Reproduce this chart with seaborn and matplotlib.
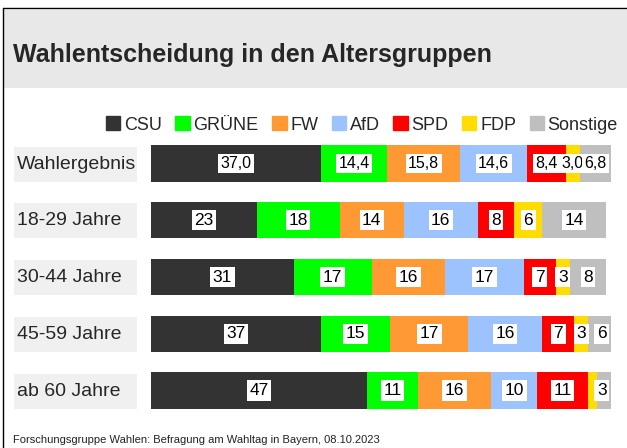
import matplotlib
matplotlib.use("Agg")
import matplotlib.pyplot as plt
import matplotlib.patches as mpatches
from matplotlib import font_manager
import seaborn as sns
import pandas as pd

# Daten
gruppen = ["Wahlergebnis", "18-29 Jahre", "30-44 Jahre", "45-59 Jahre", "ab 60 Jahre"]
parteien = ["CSU", "GRÜNE", "FW", "AfD", "SPD", "FDP", "Sonstige"]
farben = ["#333333", "#00ff00", "#ff9933", "#9dc3ff", "#ff0000", "#ffdd00", "#bfbfbf"]

csu = [37.0, 23, 31, 37, 47]
gruene = [14.4, 18, 17, 15, 11]
fw = [15.8, 14, 16, 17, 16]
afd = [14.6, 16, 17, 16, 10]
spd = [8.4, 8, 7, 7, 11]
fdp = [3.0, 6, 3, 3, 2]
sonstige = [6.8, 14, 8, 6, 3]

werte = [csu, gruene, fw, afd, spd, fdp, sonstige]

sns.set_theme(style="white")
plt.rcParams["font.family"] = ["Liberation Sans", "DejaVu Sans"]

# schmale Schrift für das Wahlergebnis, falls vorhanden
namen = {f.name for f in font_manager.fontManager.ttflist}
narrow = "Liberation Sans Narrow" in namen

df = pd.DataFrame(dict(zip(parteien, werte)), index=gruppen)
cum = df.cumsum(axis=1)

fig = plt.figure(figsize=(6.27, 4.48), dpi=100)
W, H = 627, 448

# Rahmen und Titelband
fig.patches.append(mpatches.Rectangle((4 / W, 1 - 88 / H), 1, 78 / H, transform=fig.transFigure,
                                      facecolor="#e8e8e8", edgecolor="none", zorder=0))
fig.lines.append(plt.Line2D([3 / W, 3 / W], [0, 1 - 8 / H], transform=fig.transFigure, color="black", lw=1))
fig.lines.append(plt.Line2D([3 / W, 1], [1 - 8 / H, 1 - 8 / H], transform=fig.transFigure, color="black", lw=1))
fig.text(13 / W, 1 - 55 / H, "Wahlentscheidung in den Altersgruppen", fontsize=18,
         fontweight="bold", va="center", ha="left")

ax = fig.add_axes([151 / W, (448 - 419) / H, 460 / W, 284 / H])

# gestapelte Balken: von hinten nach vorne zeichnen
for i in range(len(parteien) - 1, -1, -1):
    sns.barplot(x=cum[parteien[i]].values, y=gruppen, orient="h", color=farben[i],
                width=0.64, ax=ax, saturation=1, linewidth=0)

# Werte-Beschriftungen
for r, g in enumerate(gruppen):
    left = 0
    for i, p in enumerate(parteien):
        v = df.loc[g, p]
        if r == 0:
            txt = f"{v:.1f}".replace(".", ",")
            if narrow:
                fs, fam = 13.5, ["Liberation Sans Narrow", "DejaVu Sans"]
            else:
                fs, fam = 11.5, ["Liberation Sans", "DejaVu Sans"]
        else:
            txt = f"{int(v)}"
            fs, fam = 12.5, ["Liberation Sans", "DejaVu Sans"]
        show = not (r == 4 and p == "FDP")
        if show:
            x = left + v / 2
            if r == 4 and p == "Sonstige":
                x = left + 1.0
            ax.text(x, r, txt, ha="center", va="center", fontsize=fs, family=fam, color="black",
                    bbox=dict(boxstyle="square,pad=0.15", facecolor="white", edgecolor="none"))
        left += v

ax.set_xlim(0, 100)
ax.set_ylim(4.5, -0.5)
ax.set_xlabel("")
ax.set_ylabel("")
ax.set_xticks([])
ax.set_yticks([])
for s in ax.spines.values():
    s.set_visible(False)
ax.patch.set_alpha(0)

# Gruppenbeschriftungen mit grauem Hintergrund
for r, g in enumerate(gruppen):
    yc = 1 - (164 + r * 56.8) / H
    fig.patches.append(mpatches.Rectangle((14 / W, yc - 17.5 / H), 123 / W, 35 / H,
                                          transform=fig.transFigure, facecolor="#f0f0f0",
                                          edgecolor="none", zorder=0))
    fig.text(17 / W, yc, g, fontsize=14, va="center", ha="left")

# Legende
handles = [mpatches.Patch(color=c, label=p) for p, c in zip(parteien, farben)]
fig.legend(handles=handles, loc="center right", bbox_to_anchor=(0.997, 1 - 125 / H), ncol=7,
           frameon=False, fontsize=13, handlelength=0.8, handleheight=0.8,
           handletextpad=0.2, columnspacing=0.75, borderaxespad=0)

fig.text(13 / W, 1 - 440 / H, "Forschungsgruppe Wahlen: Befragung am Wahltag in Bayern, 08.10.2023",
         fontsize=8, va="center", ha="left", color="#222222")

fig.savefig("out.png", dpi=100)
